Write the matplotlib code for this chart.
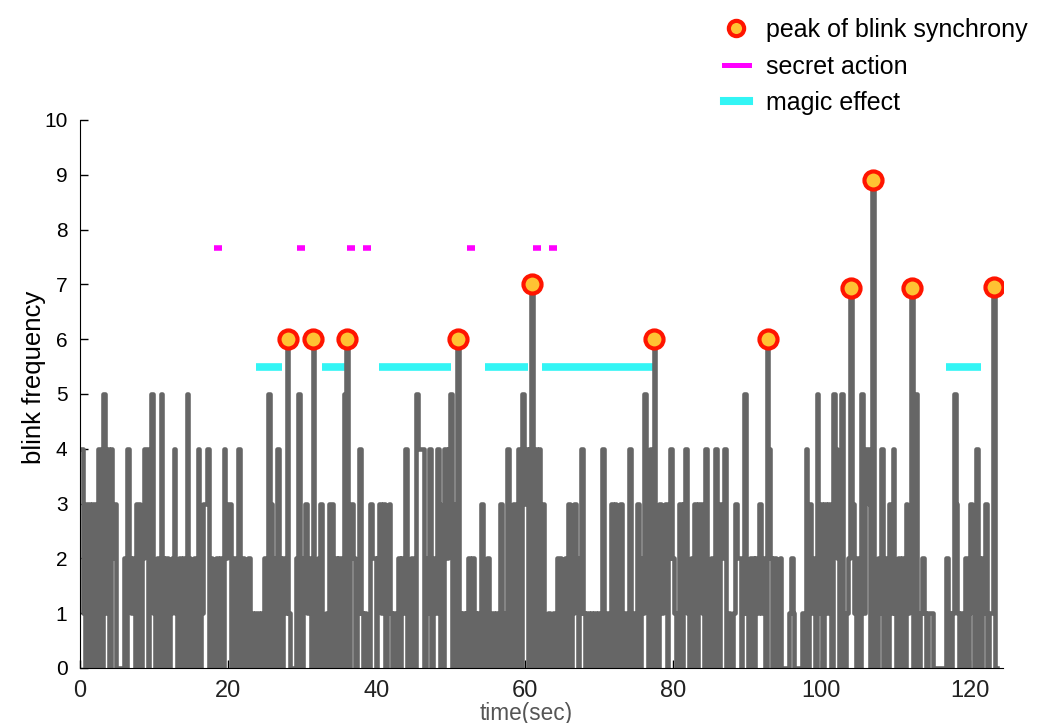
import matplotlib
matplotlib.use('Agg')
import matplotlib.pyplot as plt
import numpy as np
from matplotlib.lines import Line2D

# blink frequency, one digit per 0.25 s, one string per 10 s
dt = 0.25
blink_blocks = [
    "4410" "3303" "3044" "0514" "0423" "0000" "2042" "1203" "3024" "4025",
    "1020" "5202" "0124" "1020" "2052" "0120" "4013" "3402" "1020" "2042",
    "3302" "0140" "2012" "0101" "1010" "2053" "0204" "2021" "6100" "0250",
    "0231" "2061" "0230" "0103" "3020" "2205" "6023" "2014" "1010" "0322",
    "0231" "3023" "1010" "2021" "4002" "1054" "4402" "1402" "1430" "0424",
    "5030" "6101" "0120" "2101" "0310" "2101" "0103" "1014" "0230" "2405",
    "3404" "7040" "4030" "0100" "1022" "0120" "3013" "2014" "1010" "1010",
    "1041" "0103" "0320" "3010" "1401" "0302" "1520" "4062" "0312" "3024",
    "2101" "3034" "1020" "3033" "1040" "0204" "3032" "4010" "0132" "2015",
    "1022" "0213" "1206" "4202" "1020" "0001" "2100" "0010" "4031" "2051",
    "3031" "3205" "4205" "1012" "7310" "2051" "4430" "9102" "1402" "0314",
    "1020" "2031" "2705" "1012" "1011" "1000" "0000" "2101" "5310" "1020",
    "1320" "4202" "1301" "1700",
]
blink = np.array([int(c) for c in ''.join(blink_blocks)])
time = np.arange(len(blink)) * dt

peak_times = [28.0, 31.5, 36.0, 51.0, 61.0, 77.5, 92.75, 104.0, 107.0, 112.25, 123.25]
peak_values = [6, 6, 6, 6, 7, 6, 6, 6.93, 8.9, 6.93, 6.95]

secret_times = [18.6, 29.8, 36.5, 38.7, 52.7, 61.6, 63.8]
secret_level = 7.66

magic_start = [23.7, 32.6, 40.4, 54.6, 62.3, 116.8]
magic_end = [27.2, 36.0, 50.0, 60.4, 77.5, 121.5]
magic_level = 5.5

grey = '#666666'
narrow = ['Liberation Sans Narrow', 'Liberation Sans']

fig = plt.figure(figsize=(10.37, 7.23), dpi=100)
ax = fig.add_axes([0.0771, 0.0761, 0.890, 0.758])

ax.hlines([magic_level] * len(magic_start), magic_start, magic_end,
          color='#33F5F5', lw=5.5, zorder=1)
ax.plot(secret_times, [secret_level] * len(secret_times), ls='none',
        marker='_', ms=6, mew=4, color='#FF00FF', zorder=1)
ax.plot(time, blink, color=grey, lw=3.3, drawstyle='steps-mid', zorder=2)
ax.plot(peak_times, peak_values, ls='none', marker='o', ms=13, mew=3,
        mfc='#FFC233', mec='#FF1500', zorder=3)

ax.set_xlim(0, 124.5)
ax.set_ylim(0, 10)
ax.set_yticks(range(0, 11))
ax.set_xticks(range(0, 121, 20))
ax.spines['top'].set_visible(False)
ax.spines['right'].set_visible(False)
ax.tick_params(direction='in', length=6, width=1, labelsize=15, colors='black')
ax.tick_params(axis='y', pad=9)
ax.tick_params(axis='x', pad=9)
for lab in ax.get_xticklabels():
    lab.set_family(narrow)
    lab.set_fontsize(17)
    lab.set_color('#222222')
for lab in ax.get_yticklabels():
    lab.set_family('Liberation Sans')

ax.set_ylabel('blink frequency', fontsize=18.5, family='Liberation Sans')
ax.yaxis.set_label_coords(-0.037, 0.531)
ax.set_xlabel('time(sec)', fontsize=16.3, color='#555555', family=narrow, labelpad=0)
ax.xaxis.set_label_coords(0.484, -0.062)

handles = [
    Line2D([], [], ls='none', marker='o', ms=11, mew=3, mfc='#FFC233', mec='#FF1500'),
    Line2D([], [], color='#FF00FF', lw=3.6),
    Line2D([], [], color='#33F5F5', lw=5.8),
]
fig.legend(handles, ['peak of blink synchrony', 'secret action', 'magic effect'],
           loc='upper left', bbox_to_anchor=(0.676, 1.006), frameon=False,
           prop={'family': 'Liberation Sans', 'size': 18},
           handlelength=1.0, handletextpad=0.7, labelspacing=0.50)

fig.savefig('out.png', dpi=100)
